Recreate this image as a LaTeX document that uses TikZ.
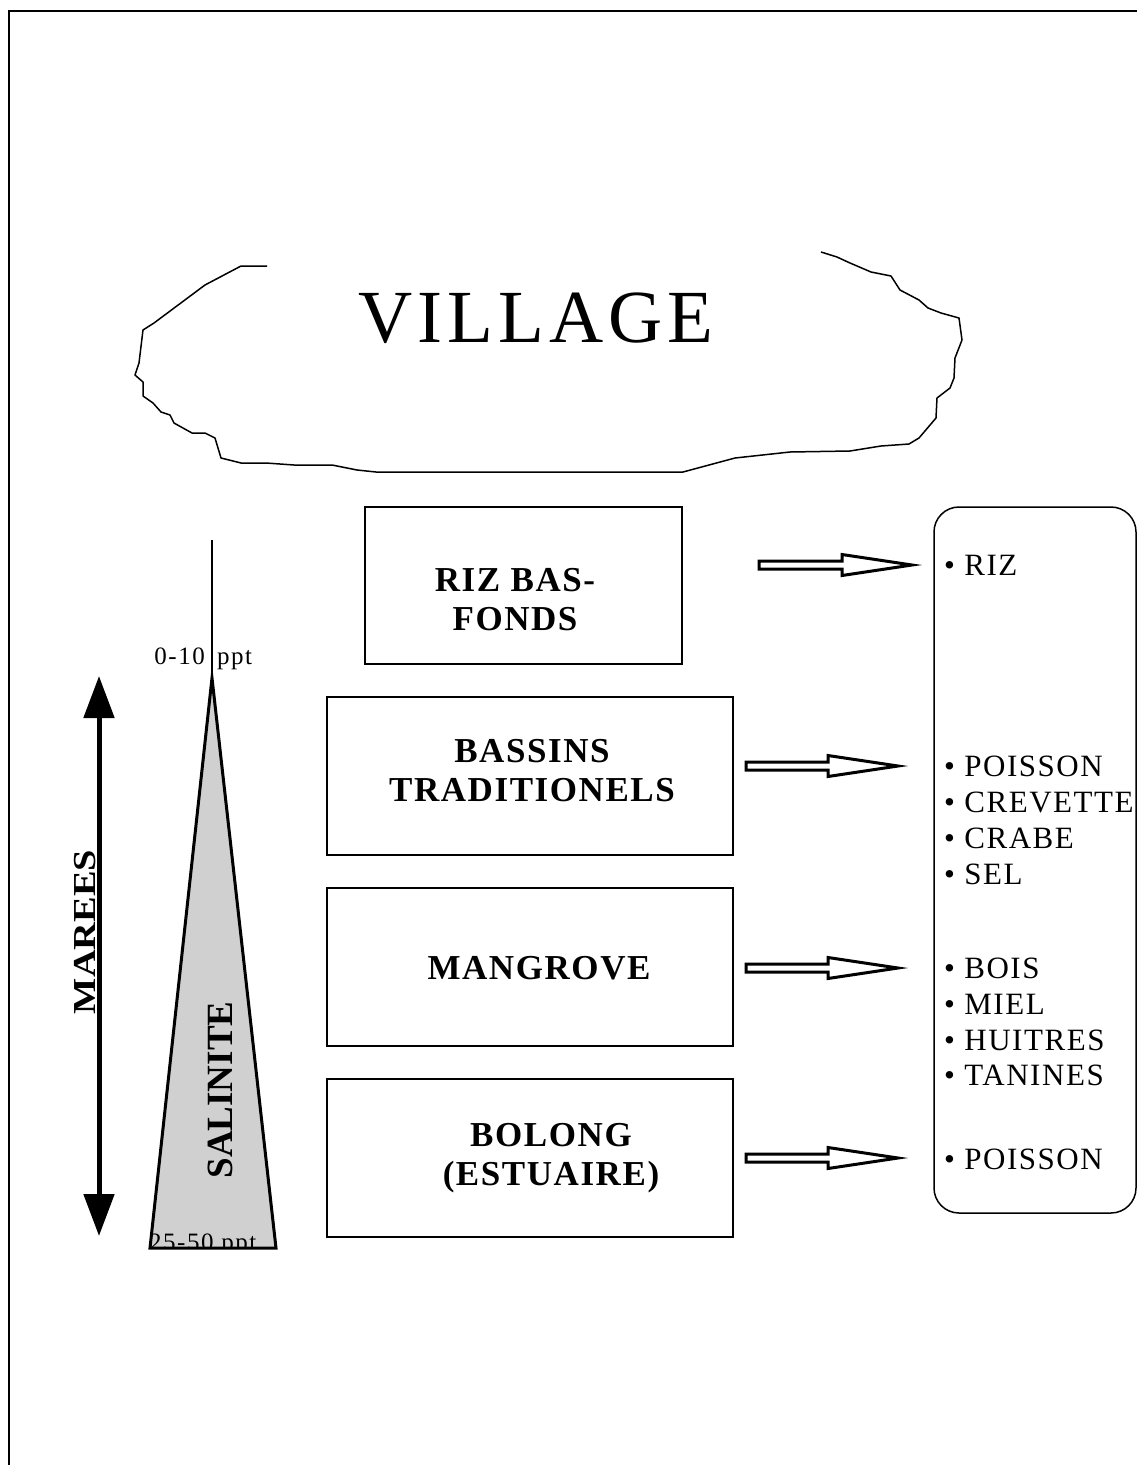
\documentclass[tikz,border=0pt]{standalone}
\usepackage{fontspec}
\setmainfont{Liberation Serif}
\newfontfamily\villagefont[LetterSpace=6.5]{Liberation Serif}
\newfontfamily\boxfont[LetterSpace=4.5]{Liberation Serif}
\newfontfamily\listfont[LetterSpace=5]{Liberation Serif}
\newfontfamily\pptfont[LetterSpace=6]{Liberation Serif}
\newfontfamily\mareesfont[FakeStretch=1.2]{Liberation Serif}
\usetikzlibrary{arrows.meta,calc}
\definecolor{saltgray}{RGB}{208,208,208}
\newcommand{\blockarrow}[2]{%
  \draw[harrow] ($(#1)+(0,-4)$) -- ($(#2)+(-70,-4)$) -- ($(#2)+(-70,-10.5)$) -- (#2)
     -- ($(#2)+(-70,10.5)$) -- ($(#2)+(-70,4)$) -- ($(#1)+(0,4)$) -- cycle;}
\begin{document}
\begin{tikzpicture}[x=1pt,y=-1pt,
  boxnode/.style={draw, line width=1.8pt, minimum width=406pt, minimum height=158pt, inner sep=0pt},
  boxtext/.style={font=\boxfont\bfseries\fontsize{35}{39}\selectfont, align=center, inner sep=0pt},
  listitem/.style={font=\listfont\fontsize{31}{35}\selectfont, anchor=base west, inner sep=0pt},
  harrow/.style={draw, line width=3pt, fill=white, line join=miter},
  ppt/.style={font=\pptfont\fontsize{25}{28}\selectfont, inner sep=0pt},
  vtext/.style={rotate=90, inner sep=0pt},
]
\useasboundingbox (0,0) rectangle (1137,1465);

% page frame
\draw[line width=2pt] (1137,11) -- (8.5,11) -- (8.5,1465);

% village cloud
\draw[line width=1.5pt, line join=round] (267,266) -- (241,266) -- (205,285) -- (154,323) -- (143,330)
  -- (139,363) -- (135,375) -- (143,382) -- (143,396) -- (153,403) -- (161,412) -- (170,415)
  -- (174,423) -- (183,428) -- (192,433) -- (205,433) -- (215,438) -- (221,458) -- (241,463)
  -- (266,463) -- (294,465) -- (332,465) -- (357,470) -- (376,472) -- (683,472) -- (735,458)
  -- (790,452) -- (850,451) -- (881,446) -- (909,444) -- (919,438) -- (936,418) -- (937,398)
  -- (950,388) -- (954,378) -- (955,358) -- (962,340) -- (959,318) -- (941,313) -- (928,308)
  -- (919,300) -- (900,290) -- (891,276) -- (871,272) -- (850,263) -- (837,257) -- (821,252);
\node[inner sep=0pt, font=\villagefont\fontsize{75}{80}\selectfont] (village) at (536,318) {VILLAGE};

% salinity triangle
\coordinate (ttop) at (212,540);
\coordinate (apex) at (212,678);
\coordinate (bl) at (150,1248);
\coordinate (br) at (276,1248);
\fill[saltgray] (apex) -- (br) -- (bl) -- cycle;
\draw[line width=1.5pt] (ttop) -- (apex);
\node[ppt, anchor=base east] (ppttopa) at (205,664) {0-10};
\node[ppt, anchor=base west] (ppttopb) at (217,664) {ppt};
\begin{scope}
  \clip (0,0) rectangle (1137,1248);
  \node[ppt, anchor=base west] (pptbot) at (149,1250) {25-50 ppt};
\end{scope}
\draw[line width=3pt, line join=miter] (apex) -- (br) -- (bl) -- cycle;
\node[vtext, font=\bfseries\fontsize{37}{40}\selectfont] (salinite) at (220,1090) {SALINITE};

% tides double arrow
\node[vtext, font=\mareesfont\bfseries\fontsize{32}{35}\selectfont] (marees) at (85,932) {MAREES};
\coordinate (mtop) at (99,676);
\coordinate (mbot) at (99,1236);
\draw[line width=5pt, {Triangle[length=42pt,width=30pt]}-{Triangle[length=42pt,width=30pt]}] (mtop) -- (mbot);

% boxes
\node[boxnode, minimum width=317pt, minimum height=157pt] (b1) at (523.5,585.5) {};
\node[boxtext] (b1t) at (515,600) {RIZ BAS-\\FONDS};
\node[boxnode] (b2) at (530,776) {};
\node[boxtext] (b2t) at (532,771) {BASSINS\\TRADITIONELS};
\node[boxnode] (b3) at (530,967) {};
\node[boxtext] (b3t) at (539,968) {MANGROVE};
\node[boxnode] (b4) at (530,1158) {};
\node[boxtext] (b4t) at (551,1158) {BOLONG\\(ESTUAIRE)};

% products box
\node[draw, line width=1.5pt, rounded corners=25pt, minimum width=202pt, minimum height=706pt, inner sep=0pt] (prod) at (1035,860) {};

% block arrows
\coordinate (a1s) at (759,565); \coordinate (a1e) at (912,565);
\coordinate (a2s) at (746,766); \coordinate (a2e) at (898,766);
\coordinate (a3s) at (746,968); \coordinate (a3e) at (898,968);
\coordinate (a4s) at (746,1158); \coordinate (a4e) at (898,1158);
\blockarrow{a1s}{a1e}
\blockarrow{a2s}{a2e}
\blockarrow{a3s}{a3e}
\blockarrow{a4s}{a4e}

% products list
\node[listitem] (l1) at (944,575.5) {• RIZ};
\node[listitem] (l2) at (944,776.5) {• POISSON};
\node[listitem] (l3) at (944,812.5) {• CREVETTE};
\node[listitem] (l4) at (944,848.5) {• CRABE};
\node[listitem] (l5) at (944,884.5) {• SEL};
\node[listitem] (l6) at (944,978.5) {• BOIS};
\node[listitem] (l7) at (944,1014.5) {• MIEL};
\node[listitem] (l8) at (944,1050.5) {• HUITRES};
\node[listitem] (l9) at (944,1085.5) {• TANINES};
\node[listitem] (l10) at (944,1169.5) {• POISSON};
\end{tikzpicture}
\end{document}
